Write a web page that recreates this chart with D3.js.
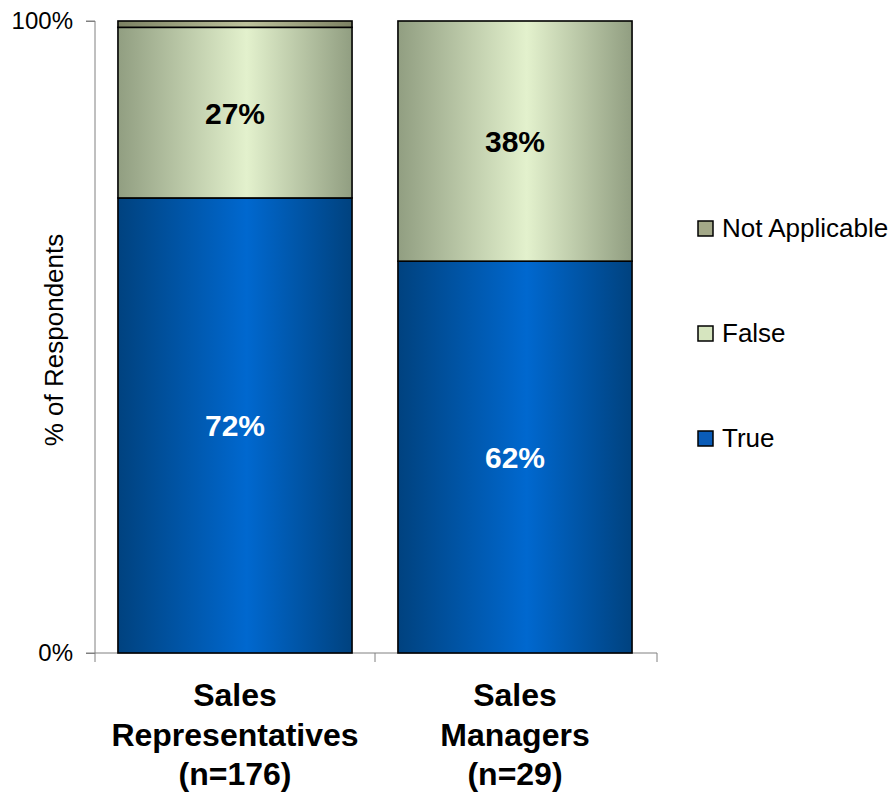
<!DOCTYPE html>
<html>
<head>
<meta charset="utf-8">
<script src="https://cdn.jsdelivr.net/npm/d3@7"></script>
<style>
  html, body { margin: 0; padding: 0; background: #fff; }
  text { font-family: Arial, "Liberation Sans", sans-serif; }
</style>
</head>
<body>
<svg id="chart" width="890" height="794"></svg>
<script>
// Survey responses, share of respondents per group
const categories = ["Sales Representatives (n=176)", "Sales Managers (n=29)"];
const categoryLines = [["Sales", "Representatives", "(n=176)"], ["Sales", "Managers", "(n=29)"]];
const seriesNames = ["True", "False", "Not Applicable"];
const trueValues = [0.72, 0.62];
const falseValues = [0.27, 0.38];
const naValues = [0.01, 0.00];
const labelTrue = ["72%", "62%"];
const labelFalse = ["27%", "38%"];
const yTickLabels = ["0%", "100%"];

const svg = d3.select("#chart");
const margin = { left: 95, right: 235, top: 21, bottom: 141 };
const W = 890, H = 794;

const x = d3.scaleBand().domain(categories).range([margin.left, W - margin.right]).paddingInner(0.164).paddingOuter(0.082);
const y = d3.scaleLinear().domain([0, 1]).range([H - margin.bottom, margin.top]);

// Horizontal shading gradients for each series
const defs = svg.append("defs");
function grad(id, edge, mid) {
  const g = defs.append("linearGradient").attr("id", id).attr("x1", "0%").attr("x2", "100%").attr("y1", "0%").attr("y2", "0%");
  g.append("stop").attr("offset", "0%").attr("stop-color", edge);
  g.append("stop").attr("offset", "55%").attr("stop-color", mid);
  g.append("stop").attr("offset", "100%").attr("stop-color", edge);
}
grad("gTrue", "#00427f", "#0068cf");
grad("gFalse", "#919e81", "#e3f1cd");
grad("gNA", "#7c8163", "#bdc29c");
const fills = { "True": "url(#gTrue)", "False": "url(#gFalse)", "Not Applicable": "url(#gNA)" };
const legendFills = { "True": "#0a5cb8", "False": "#d6e5bf", "Not Applicable": "#a3a888" };

const rows = categories.map((c, i) => ({ cat: c, "True": trueValues[i], "False": falseValues[i], "Not Applicable": naValues[i] }));
const stacked = d3.stack().keys(seriesNames)(rows);

// Axes
const yAxis = d3.axisLeft(y).tickValues([0, 1]).tickFormat((d, i) => yTickLabels[i]).tickSize(9).tickPadding(13);
const gy = svg.append("g").attr("transform", `translate(${margin.left},0)`).call(yAxis);
gy.select(".domain").attr("stroke", "#808080").attr("d", `M-9,${y(1)}H0V${y(0)}H-9`);
gy.selectAll(".tick line").attr("stroke", "#808080");
gy.selectAll(".tick text").attr("font-size", 24).attr("fill", "#000").attr("font-family", "Arial, 'Liberation Sans', sans-serif");

// Baseline with category tick marks
const xg = svg.append("g");
xg.append("line").attr("x1", margin.left).attr("x2", W - margin.right + 2).attr("y1", y(0)).attr("y2", y(0)).attr("stroke", "#808080");
const bounds = [margin.left, (x(categories[0]) + x.bandwidth() + x(categories[1])) / 2, W - margin.right + 2];
xg.selectAll("line.tk").data(bounds).enter().append("line")
  .attr("x1", d => d).attr("x2", d => d).attr("y1", y(0)).attr("y2", y(0) + 9).attr("stroke", "#808080");

// Bars
stacked.forEach(layer => {
  svg.append("g").selectAll("rect").data(layer).enter().append("rect")
    .attr("x", d => x(d.data.cat))
    .attr("width", x.bandwidth())
    .attr("y", d => y(d[1]))
    .attr("height", d => y(d[0]) - y(d[1]))
    .attr("fill", fills[layer.key])
    .attr("stroke", "#000")
    .attr("stroke-width", d => (d[1] - d[0]) > 0 ? 1.6 : 0);
});

// Value labels
const tLayer = stacked[0], fLayer = stacked[1];
svg.append("g").selectAll("text").data(tLayer).enter().append("text")
  .attr("x", d => x(d.data.cat) + x.bandwidth() / 2)
  .attr("y", d => y((d[0] + d[1]) / 2) + 11)
  .attr("text-anchor", "middle").attr("font-size", 30).attr("font-weight", "bold").attr("fill", "#fff")
  .text((d, i) => labelTrue[i]);
svg.append("g").selectAll("text").data(fLayer).enter().append("text")
  .attr("x", d => x(d.data.cat) + x.bandwidth() / 2)
  .attr("y", d => y((d[0] + d[1]) / 2) + 11)
  .attr("text-anchor", "middle").attr("font-size", 30).attr("font-weight", "bold").attr("fill", "#000")
  .text((d, i) => labelFalse[i]);

// Category labels
categories.forEach((c, i) => {
  const t = svg.append("text").attr("text-anchor", "middle").attr("font-size", 32).attr("font-weight", "bold")
    .attr("x", x(c) + x.bandwidth() / 2);
  categoryLines[i].forEach((ln, j) => {
    t.append("tspan").attr("x", x(c) + x.bandwidth() / 2).attr("y", 706 + j * 39.5).text(ln);
  });
});

// Y axis title
svg.append("text").attr("transform", `translate(63,${(y(0) + y(1)) / 2 + 3}) rotate(-90)`)
  .attr("text-anchor", "middle").attr("font-size", 26).text("% of Respondents");

// Legend
const legendOrder = ["Not Applicable", "False", "True"];
const legendY = [228, 333, 438];
legendOrder.forEach((k, i) => {
  const g = svg.append("g").attr("transform", `translate(698,${legendY[i]})`);
  g.append("rect").attr("x", 0).attr("y", -7).attr("width", 15).attr("height", 15)
    .attr("fill", legendFills[k]).attr("stroke", "#000").attr("stroke-width", 1.5);
  g.append("text").attr("x", 24).attr("y", 9).attr("font-size", 26).text(k);
});
</script>
</body>
</html>
